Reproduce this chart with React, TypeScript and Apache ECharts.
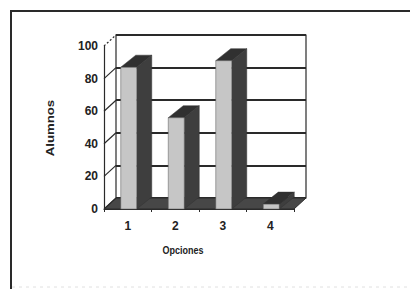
import React, { useEffect, useRef } from 'react';
import * as echarts from 'echarts';

const categories = ['1', '2', '3', '4'];
const values = [87, 56, 91, 3];
const yTicks = [0, 20, 40, 60, 80, 100];
const yTitle = 'Alumnos';
const xTitle = 'Opciones';

const FRONT = '#c6c6c6';
const DARK = '#3e3e3e';
const TOP = '#303030';
const LINE = '#2a2a2a';

export default function App() {
  const ref = useRef<HTMLDivElement>(null);
  useEffect(() => {
    const chart = echarts.init(ref.current!, null, { renderer: 'svg' });
    const option: any = {
      animation: false,
      backgroundColor: '#ffffff',
      grid: [
        { left: 104, top: 46, width: 190, height: 163 },
        {
          left: 116, top: 35, width: 190, height: 163, show: true,
          borderColor: LINE, borderWidth: 1.2, backgroundColor: 'transparent',
        },
      ],
      xAxis: [
        {
          gridIndex: 0, type: 'category', data: categories,
          axisLine: { show: true, lineStyle: { color: LINE, width: 1.2 } },
          axisTick: { show: true, length: 3, lineStyle: { color: LINE } },
          axisLabel: { fontSize: 12, fontWeight: 'bold', color: '#222', margin: 11, fontFamily: 'Arial' },
        },
        { gridIndex: 1, type: 'category', data: categories, show: false },
      ],
      yAxis: [
        {
          gridIndex: 0, type: 'value', min: 0, max: 100, interval: 20,
          axisLine: { show: true, lineStyle: { color: LINE, width: 1.2 } },
          axisTick: { show: false },
          splitLine: { show: false },
          axisLabel: { fontSize: 12, fontWeight: 'bold', color: '#222', margin: 6, fontFamily: 'Arial' },
        },
        {
          gridIndex: 1, type: 'value', min: 0, max: 100, interval: 20,
          axisLine: { show: false }, axisTick: { show: false }, axisLabel: { show: false },
          splitLine: { show: true, lineStyle: { color: LINE, width: 1.8 } },
        },
      ],
      series: [
        {
          type: 'custom',
          xAxisIndex: 0, yAxisIndex: 0,
          data: [[0, 0]],
          silent: true,
          renderItem: (params: any, api: any) => {
            const cs = params.coordSys;
            const left = cs.x;
            const right = cs.x + cs.width;
            const bottom = cs.y + cs.height;
            const dx = 12, dy = -11;
            const children: any[] = [
              {
                type: 'polygon',
                shape: { points: [[left, bottom], [right, bottom], [right + dx, bottom + dy], [left + dx, bottom + dy]] },
                style: { fill: '#474747', stroke: LINE, lineWidth: 1 },
              },
            ];
            yTicks.forEach((v) => {
              const y = api.coord([0, v])[1];
              children.push({
                type: 'line',
                shape: { x1: left, y1: y, x2: left + dx, y2: y + dy },
                style: { stroke: LINE, lineWidth: 1.2, lineDash: v === 100 ? [2, 2] : null },
              });
            });
            return { type: 'group', children };
          },
        },
        {
          type: 'custom',
          xAxisIndex: 0, yAxisIndex: 0,
          data: values.map((v, i) => [i, v]),
          renderItem: (params: any, api: any) => {
            const idx = api.value(0);
            const v = api.value(1);
            const top = api.coord([idx, v]);
            const base = api.coord([idx, 0]);
            const w = 16, dx = 15, dy = -12;
            const x0 = top[0] - w / 2 + 1;
            return {
              type: 'group',
              children: [
                {
                  type: 'polygon',
                  shape: { points: [[x0 + w, top[1]], [x0 + w + dx, top[1] + dy], [x0 + w + dx, base[1] + dy], [x0 + w, base[1]]] },
                  style: { fill: DARK, stroke: '#333', lineWidth: 0.5 },
                },
                {
                  type: 'polygon',
                  shape: { points: [[x0, top[1]], [x0 + dx, top[1] + dy], [x0 + w + dx, top[1] + dy], [x0 + w, top[1]]] },
                  style: { fill: TOP, stroke: '#333', lineWidth: 0.5 },
                },
                {
                  type: 'rect',
                  shape: { x: x0, y: top[1], width: w, height: base[1] - top[1] },
                  style: { fill: FRONT, stroke: '#555', lineWidth: 0.5 },
                },
              ],
            };
          },
        },
      ],
      graphic: [
        {
          type: 'line', shape: { x1: 10, y1: 11, x2: 410, y2: 11 },
          style: { stroke: '#2a2a2a', lineWidth: 2 }, silent: true,
        },
        {
          type: 'line', shape: { x1: 11, y1: 10, x2: 11, y2: 289 },
          style: { stroke: '#2a2a2a', lineWidth: 2 }, silent: true,
        },
        {
          type: 'line', shape: { x1: 12, y1: 287, x2: 410, y2: 287 },
          style: { stroke: '#e0e0e0', lineWidth: 1, lineDash: [3, 4] }, silent: true,
        },
        {
          type: 'text', x: 50, y: 128, rotation: Math.PI / 2, scaleX: 1.2,
          style: { text: yTitle, fontSize: 11, fontWeight: 'bold', fontFamily: 'Arial', fill: '#222', align: 'center', verticalAlign: 'middle' },
        },
        {
          type: 'text', x: 183, y: 250, scaleX: 0.9, scaleY: 1.15,
          style: { text: xTitle, fontSize: 10, fontWeight: 'bold', fontFamily: 'Arial', fill: '#222', align: 'center', verticalAlign: 'middle' },
        },
      ],
    };
    chart.setOption(option);
    return () => chart.dispose();
  }, []);
  return <div ref={ref} style={{ position: 'absolute', left: 0, top: 0, width: 410, height: 289 }} />;
}
